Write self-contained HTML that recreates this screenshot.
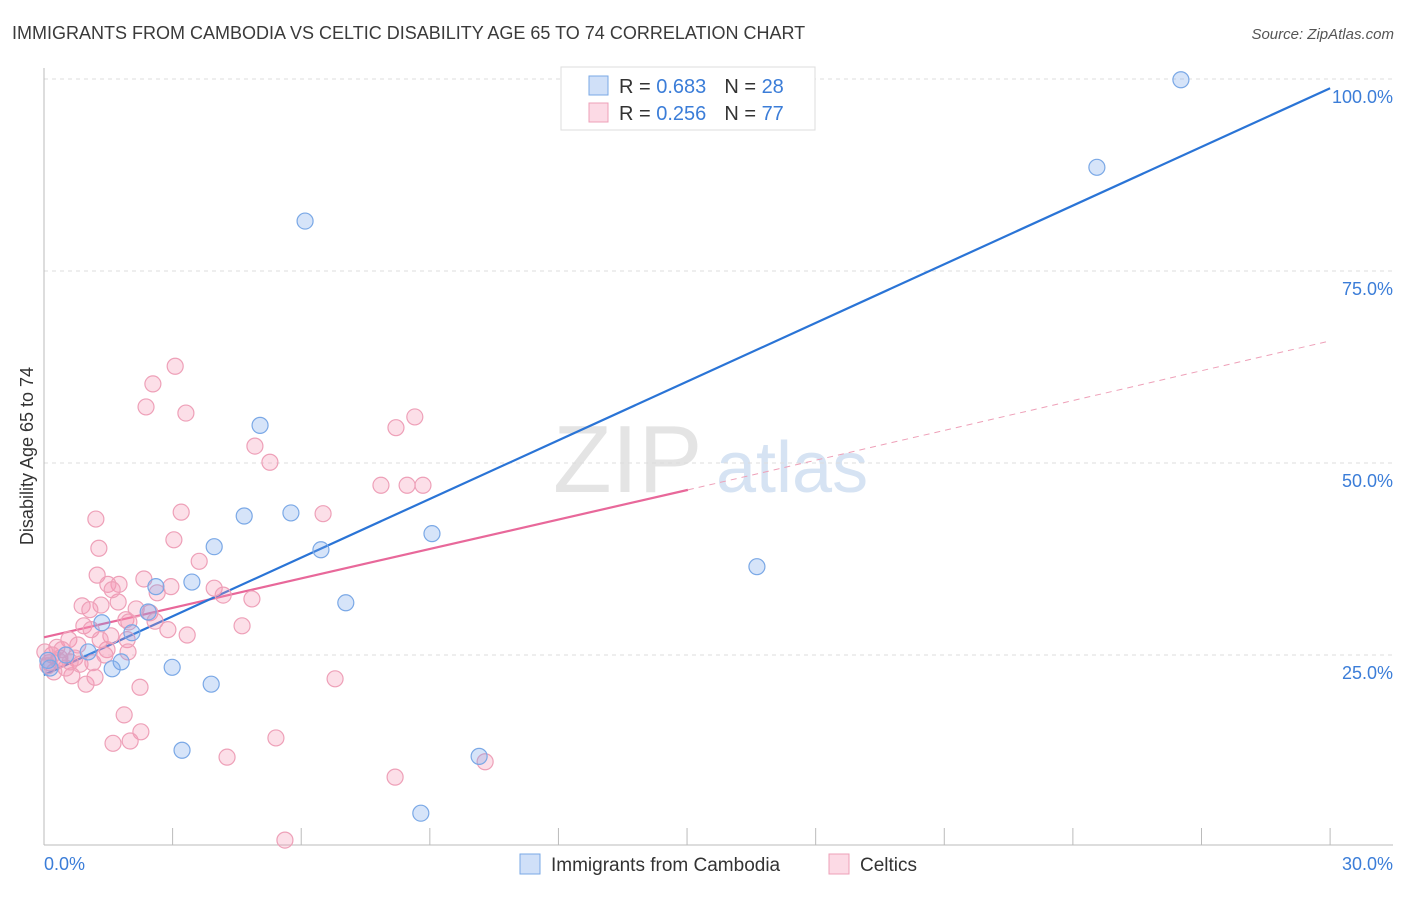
<!DOCTYPE html>
<html><head><meta charset="utf-8"><style>
body{margin:0;background:#fff;font-family:"Liberation Sans",sans-serif;}
svg text{font-family:"Liberation Sans",sans-serif;}
</style></head><body>
<svg width="1406" height="892" viewBox="0 0 1406 892">
<text x="12" y="39" font-size="18" fill="#3a3a3a">IMMIGRANTS FROM CAMBODIA VS CELTIC DISABILITY AGE 65 TO 74 CORRELATION CHART</text>
<text x="1394" y="39" font-size="15" fill="#555" font-style="italic" text-anchor="end">Source: ZipAtlas.com</text>
<g>
<text x="553" y="492" font-size="96" fill="#e4e4e4" font-family="Liberation Serif,serif">ZIP</text>
<text x="716" y="492" font-size="72" fill="#d6e3f3">atlas</text>
</g>
<g id="grid"></g>
<g id="axes"></g>
<g id="lines"></g>
<g id="pts"></g>
<text transform="translate(33,456) rotate(-90)" font-size="18" fill="#333" text-anchor="middle">Disability Age 65 to 74</text>
<g>
<rect x="561" y="67" width="254" height="63" fill="#fff" stroke="#ddd"/>
<rect x="589" y="76" width="19" height="19" fill="rgba(120,165,235,0.35)" stroke="#7aa8e6"/>
<rect x="589" y="103" width="19" height="19" fill="rgba(245,150,180,0.35)" stroke="#eea0b8"/>
<text x="619" y="93" font-size="20" fill="#333">R = <tspan fill="#3b7dd8">0.683</tspan><tspan dx="18">N = </tspan><tspan fill="#3b7dd8">28</tspan></text>
<text x="619" y="120" font-size="20" fill="#333">R = <tspan fill="#3b7dd8">0.256</tspan><tspan dx="18">N = </tspan><tspan fill="#3b7dd8">77</tspan></text>
</g>
<g>
<rect x="520" y="854" width="20" height="20" fill="rgba(120,165,235,0.35)" stroke="#7aa8e6"/>
<text x="551" y="871" font-size="19" fill="#333">Immigrants from Cambodia</text>
<rect x="829" y="854" width="20" height="20" fill="rgba(245,150,180,0.35)" stroke="#eea0b8"/>
<text x="860" y="871" font-size="19" fill="#333">Celtics</text>
</g>
</svg>
<script>
const yTicks=[25,50,75,100];
const yTickLabels=["25.0%","50.0%","75.0%","100.0%"];
const xTickCount=10;
const blueX=[12.92,26.52,24.56,6.09,5.04,4.67,5.76,3.97,6.46,9.05,3.45,2.61,7.04,1.35,2.05,2.43,1.03,1.80,1.59,2.99,3.90,3.22,10.15,8.79,16.63,0.09,0.51,0.14];
const blueY=[99.6,99.9,88.5,81.5,54.9,43.1,43.5,39.1,38.7,40.8,34.5,33.9,31.8,29.2,27.9,30.6,25.4,24.1,23.2,23.4,21.2,12.6,11.8,4.4,36.5,24.3,25.0,23.3];
const pinkX=[3.06,2.54,2.38,3.31,4.92,5.27,8.21,8.65,7.86,8.47,8.84,1.21,3.20,6.51,1.28,3.03,3.62,1.24,1.75,1.49,2.33,2.64,2.96,3.97,4.18,4.85,0.89,1.33,1.73,2.15,2.47,1.91,0.93,1.10,1.98,2.59,2.89,3.34,4.62,1.56,1.94,0.58,0.79,1.47,1.96,0.30,0.37,0.72,1.14,0.65,0.98,1.19,0.51,0.23,0.12,0.19,2.24,6.79,1.87,2.26,1.61,2.01,4.27,5.41,8.19,10.29,5.62,0.09,0.42,0.84,0.33,0.61,0.02,1.31,1.42,1.59,1.07];
const pinkY=[62.6,60.3,57.3,56.5,52.2,50.1,54.6,56.0,47.1,47.1,47.1,42.7,43.6,43.4,38.9,40.0,37.2,35.4,34.2,34.2,34.9,33.1,33.9,33.7,32.8,32.3,31.4,31.5,31.9,31.0,30.5,29.6,28.8,28.3,29.3,29.4,28.3,27.6,28.8,27.5,27.0,27.0,26.3,25.7,25.4,26.0,24.6,24.6,24.0,22.3,21.2,22.1,23.3,22.8,24.0,25.0,20.8,21.9,17.2,15.0,13.5,13.8,11.7,14.2,9.1,11.1,0.9,23.6,25.7,23.8,24.3,24.1,25.4,27.0,25.0,33.5,30.9];
const blueTrend=[0,22.4,30,98.8];
const pinkTrend=[0,27.3,15.02,46.5,30,65.9];
const NS="http://www.w3.org/2000/svg";
const X=v=>44+v*42.87, Y=v=>847-v*7.68;
function mk(tag,attrs,parent){const e=document.createElementNS(NS,tag);for(const k in attrs)e.setAttribute(k,attrs[k]);document.getElementById(parent).appendChild(e);return e;}
yTicks.forEach((t,i)=>{
 const g=mk('line',{x1:44,x2:1393,y1:Y(t),y2:Y(t),stroke:'#ddd','stroke-dasharray':'4,4'},'grid');
 
 
 const l=mk('text',{x:1393,y:Y(t)+24,'font-size':18,fill:'#3b7dd8','text-anchor':'end'},'grid');
 l.textContent=yTickLabels[i];
 
 
});
const ax=mk('line',{x1:44,x2:44,y1:68,y2:845,stroke:'#bbb'},'axes');


const bx=mk('line',{x1:44,x2:1393,y1:845,y2:845,stroke:'#bbb'},'axes');


for(let i=1;i<=xTickCount;i++){const tk=mk('line',{x1:X(i*3),x2:X(i*3),y1:828,y2:845,stroke:'#bbb'},'axes');
 
 }
const x0=mk('text',{x:44,y:870,'font-size':18,fill:'#3b7dd8'},'axes');x0.textContent='0.0%';


const x1=mk('text',{x:1393,y:870,'font-size':18,fill:'#3b7dd8','text-anchor':'end'},'axes');x1.textContent='30.0%';


function dot(x,y,f,s,n){const c=mk('circle',{cx:X(x),cy:Y(y),r:8,fill:f,stroke:s,'stroke-width':1.2},'pts');
 
 }
pinkX.forEach((x,i)=>dot(x,pinkY[i],'rgba(245,150,180,0.3)','#eea0b8','celtics-point'));
blueX.forEach((x,i)=>dot(x,blueY[i],'rgba(120,165,235,0.3)','#7aa8e6','cambodia-point'));
const pl=mk('line',{x1:X(pinkTrend[0]),y1:Y(pinkTrend[1]),x2:X(pinkTrend[2]),y2:Y(pinkTrend[3]),stroke:'#e8689a','stroke-width':2.2},'lines');


const pd=mk('line',{x1:X(pinkTrend[2]),y1:Y(pinkTrend[3]),x2:X(pinkTrend[4]),y2:Y(pinkTrend[5]),stroke:'#eea0b8','stroke-width':1,'stroke-dasharray':'6,5'},'lines');


const bl=mk('line',{x1:X(blueTrend[0]),y1:Y(blueTrend[1]),x2:X(blueTrend[2]),y2:Y(blueTrend[3]),stroke:'#2a74d6','stroke-width':2.2},'lines');


</script>
</body></html>
